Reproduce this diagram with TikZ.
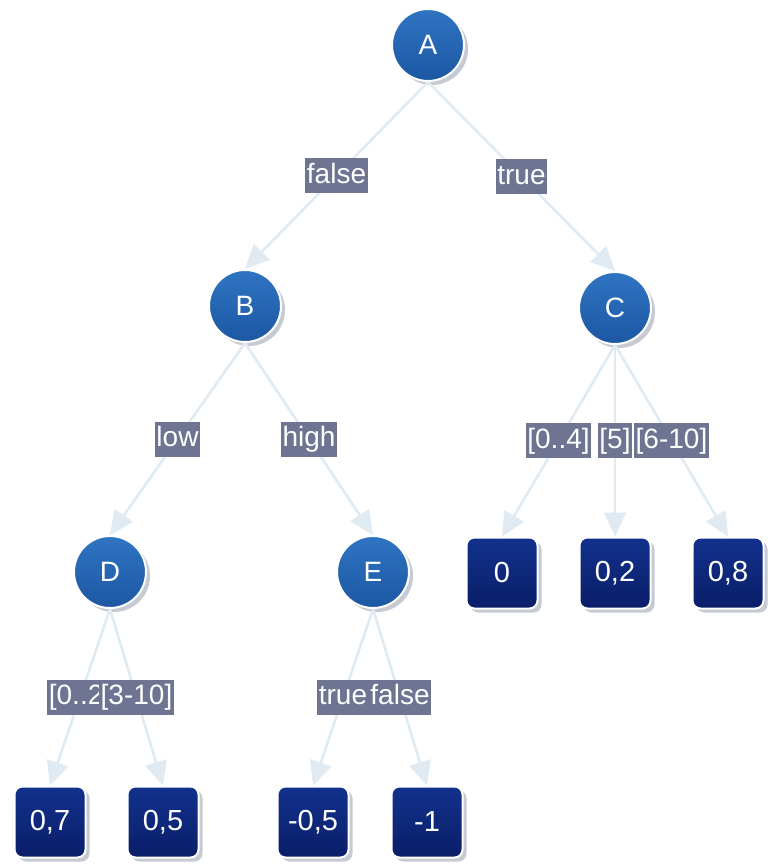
\documentclass[tikz,border=0pt]{standalone}
\usepackage{fontspec}
\setmainfont{Liberation Sans}
\usetikzlibrary{arrows.meta,shadows}

\definecolor{nodeTop}{HTML}{2F74C2}
\definecolor{nodeBot}{HTML}{1C57A2}
\definecolor{leafTop}{HTML}{12318C}
\definecolor{leafBot}{HTML}{0A1E68}
\definecolor{edgeCol}{HTML}{DFEAF2}
\definecolor{tagCol}{HTML}{6E7491}
\definecolor{shadowCol}{HTML}{C5CAD3}

\tikzset{
  inner/.style={circle, draw=white, line width=2pt, inner sep=0pt,
    minimum size=72pt, top color=nodeTop, bottom color=nodeBot,
    text=white, font=\fontsize{28}{28}\selectfont,
    drop shadow={shadow xshift=4pt, shadow yshift=-4pt, fill=shadowCol, opacity=1}},
  leaf/.style={rectangle, rounded corners=8pt, draw=white, line width=2pt,
    inner sep=0pt, minimum size=71pt, top color=leafTop, bottom color=leafBot,
    text=white, font=\fontsize{29}{29}\selectfont,
    drop shadow={shadow xshift=4pt, shadow yshift=-4pt, fill=shadowCol, opacity=1}},
  link/.style={draw=edgeCol, line width=2.5pt,
    -{Triangle[length=24pt,width=22pt,fill=edgeCol]}},
  tag/.style={fill=tagCol, text=white, inner xsep=1.5pt, inner ysep=4pt,
    text height=21pt, text depth=6pt,
    font=\fontsize{28}{28}\selectfont, midway}
}

\begin{document}
\begin{tikzpicture}[x=1pt, y=-1pt]
  \useasboundingbox[fill=white] (0,0) rectangle (776,864);

  % decision nodes
  \node[inner] (A) at (428,45) {A};
  \node[inner] (B) at (245,306) {B};
  \node[inner] (C) at (615,308) {C};
  \node[inner] (D) at (110,572) {D};
  \node[inner] (E) at (373,572) {E};

  % leaf values
  \node[leaf] (l0)  at (502,573) {0};
  \node[leaf] (l02) at (615,573) {0,2};
  \node[leaf] (l08) at (728,573) {0,8};
  \node[leaf] (l07) at (50,822)  {0,7};
  \node[leaf] (l05) at (163,822) {0,5};
  \node[leaf] (lm05) at (313,822) {-0,5};
  \node[leaf] (lm1) at (427,822) {-1};

  % branches with their conditions
  \draw[link] (A.south) -- (B.north) node[tag] {false};
  \draw[link] (A.south) -- (C.north) node[tag] {true};
  \draw[link] (B.south) -- (D.north) node[tag] {low};
  \draw[link] (B.south) -- (E.north) node[tag] {high};
  \draw[link] (C.south) -- (l0.north) node[tag] {[0..4]};
  \draw[link] (C.south) -- (l02.north) node[tag] {[5]};
  \draw[link] (C.south) -- (l08.north) node[tag] {[6-10]};
  \draw[link] (D.south) -- (l07.north) node[tag] {[0..2]};
  \draw[link] (D.south) -- (l05.north) node[tag] {[3-10]};
  \draw[link] (E.south) -- (lm05.north) node[tag] {true};
  \draw[link] (E.south) -- (lm1.north) node[tag] {false};
\end{tikzpicture}
\end{document}
